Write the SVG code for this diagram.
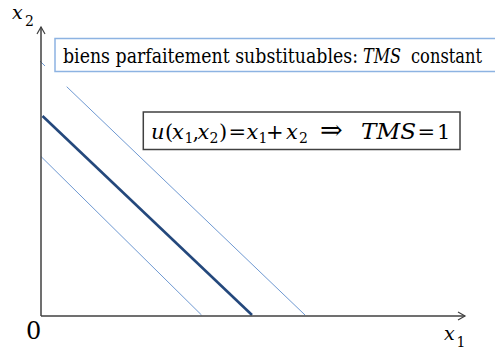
<svg xmlns="http://www.w3.org/2000/svg" width="495" height="349" viewBox="0 0 495 349">
<style>
text{fill:#000}
.i{font-style:italic}
.sub{font-size:14px;font-style:normal}
.thin{stroke:#6f99d2;stroke-width:1;fill:none}
.thick{stroke:#24487c;stroke-width:2.6;fill:none}
.axis{stroke:#404040;stroke-width:1.5;fill:none}
</style>
<defs>
<marker id="arr" markerWidth="10" markerHeight="10" refX="8" refY="5" orient="auto" markerUnits="userSpaceOnUse">
<path d="M1,1 L8,5 L1,9" fill="none" stroke="#404040" stroke-width="1.2"/>
</marker>
</defs>
<g id="curves">
<line class="thin" x1="40" y1="61" x2="45" y2="66"/>
<line class="thin" x1="66.7" y1="86.7" x2="305" y2="315"/>
<line class="thick" x1="42.5" y1="116" x2="252" y2="315"/>
<line class="thin" x1="41" y1="156.5" x2="201.5" y2="315"/>
</g>
<g id="axes">
<line class="axis" x1="41" y1="316" x2="41" y2="27" marker-end="url(#arr)"/>
<line class="axis" x1="41" y1="316" x2="465" y2="316" marker-end="url(#arr)"/>
</g>
<g id="labels">
<text x="26" y="339" font-size="24" font-family="DejaVu Serif">0</text>
<text x="12" y="18.5" font-size="19" font-family="DejaVu Serif"><tspan class="i">x</tspan><tspan class="sub" x="25" y="26">2</tspan></text>
<text x="444" y="340" font-size="19" font-family="DejaVu Serif"><tspan class="i">x</tspan><tspan class="sub" x="456.5" y="346.5">1</tspan></text>
</g>
<g id="title">
<rect x="55" y="38.5" width="445" height="33" fill="#fff" stroke="#8db3e2" stroke-width="1.5"/>
<text x="63" y="63" font-size="19.5" font-family="DejaVu Serif" textLength="295" lengthAdjust="spacingAndGlyphs">biens parfaitement substituables:</text>
<text class="i" x="363" y="63" font-size="19.5" font-family="DejaVu Serif" textLength="38" lengthAdjust="spacingAndGlyphs">TMS</text>
<text x="411" y="63" font-size="19.5" font-family="DejaVu Serif" textLength="71" lengthAdjust="spacingAndGlyphs">constant</text>
</g>
<g id="formula">
<rect x="143.3" y="112" width="316.7" height="37.5" fill="#fff" stroke="#404040" stroke-width="1.5"/>
<text y="138.7" font-size="21" font-family="DejaVu Serif"><tspan class="i" x="151">u</tspan><tspan x="165">(</tspan><tspan class="i" x="172">x</tspan><tspan class="sub" x="184.5" y="143">1</tspan><tspan x="192.5" y="138.7">,</tspan><tspan class="i" x="197.5">x</tspan><tspan class="sub" x="209.5" y="143">2</tspan><tspan x="219" y="138.7">)</tspan><tspan x="228.5">=</tspan><tspan class="i" x="246.5">x</tspan><tspan class="sub" x="258.5" y="143">1</tspan><tspan x="266" y="138.7">+</tspan><tspan class="i" x="286">x</tspan><tspan class="sub" x="299" y="143">2</tspan><tspan x="320" y="138.7" font-size="27">⇒</tspan><tspan class="i" x="361" font-size="22" textLength="55" lengthAdjust="spacingAndGlyphs">TMS</tspan><tspan x="417.5">=</tspan><tspan x="437">1</tspan></text>
</g>
</svg>
